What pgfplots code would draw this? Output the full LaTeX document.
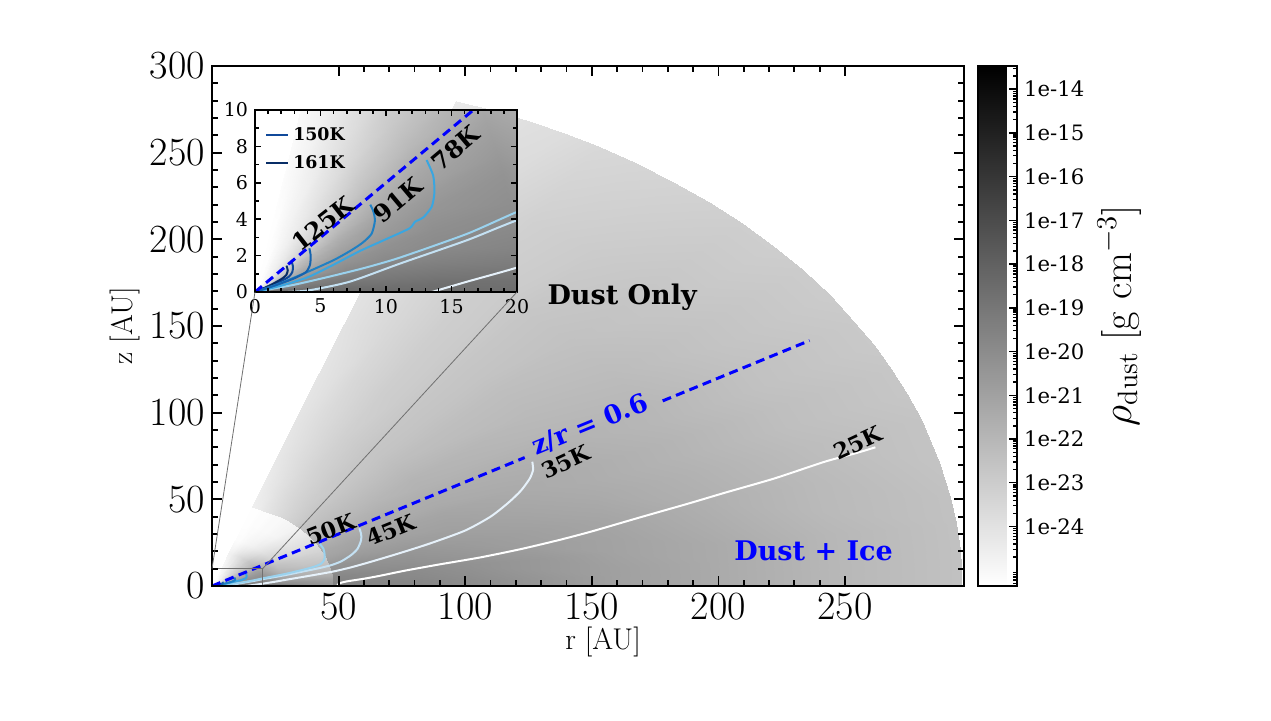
\documentclass[border=0pt]{standalone}
\usepackage{fontspec}
\usepackage{pgfplots}
\usepackage{pgfplotstable}
\pgfplotsset{compat=1.18}
\newfontfamily\dvs{DejaVu Serif}

\definecolor{cSfive}{HTML}{FFFFFF}
\definecolor{cTfive}{HTML}{E6F1FA}
\definecolor{cFfive}{HTML}{C4E1F3}
\definecolor{cFzero}{HTML}{9AD2EE}
\definecolor{cSeight}{HTML}{3AA6E0}
\definecolor{cNone}{HTML}{1F80C4}
\definecolor{cOtwo}{HTML}{1563AE}
\definecolor{cOfive}{HTML}{10499A}
\definecolor{cOsix}{HTML}{082D66}
\definecolor{linkgray}{HTML}{707070}

% log10 of the dust density on a polar grid: elevation angle a [deg], radius R [AU]
% radii per ring: 0.5 2 4 7 10 14 20 28 38 48 | 48 60 80 100 130 160 200 245 296
\pgfplotstableread[row sep=\\]{
a R L\\
0 0.5 -18.21\\ 0 2 -18.21\\ 0 4 -18.33\\ 0 7 -18.45\\ 0 10 -18.45\\ 0 14 -18.45\\ 0 20 -18.57\\ 0 28 -19.40\\ 0 38 -19.99\\ 0 48 -20.34\\ 0 48 -19.51\\ 0 60 -19.63\\ 0 80 -19.75\\ 0 100 -19.99\\ 0 130 -20.46\\ 0 160 -20.94\\ 0 200 -21.41\\ 0 245 -22.00\\ 0 296 -22.48\\
2 0.5 -18.45\\ 2 2 -18.45\\ 2 4 -18.57\\ 2 7 -18.57\\ 2 10 -18.68\\ 2 14 -18.68\\ 2 20 -18.80\\ 2 28 -19.63\\ 2 38 -20.22\\ 2 48 -20.58\\ 2 48 -19.51\\ 2 60 -19.63\\ 2 80 -19.75\\ 2 100 -19.99\\ 2 130 -20.46\\ 2 160 -20.94\\ 2 200 -21.41\\ 2 245 -22.00\\ 2 296 -22.48\\
4 0.5 -18.92\\ 4 2 -18.92\\ 4 4 -18.92\\ 4 7 -18.92\\ 4 10 -19.04\\ 4 14 -19.04\\ 4 20 -19.16\\ 4 28 -20.11\\ 4 38 -20.58\\ 4 48 -20.82\\ 4 48 -19.63\\ 4 60 -19.75\\ 4 80 -19.87\\ 4 100 -20.11\\ 4 130 -20.58\\ 4 160 -20.94\\ 4 200 -21.41\\ 4 245 -22.00\\ 4 296 -22.48\\
7 0.5 -19.63\\ 7 2 -19.51\\ 7 4 -19.40\\ 7 7 -19.40\\ 7 10 -19.40\\ 7 14 -19.51\\ 7 20 -19.63\\ 7 28 -20.70\\ 7 38 -21.17\\ 7 48 -21.41\\ 7 48 -19.75\\ 7 60 -19.87\\ 7 80 -19.99\\ 7 100 -20.22\\ 7 130 -20.58\\ 7 160 -21.05\\ 7 200 -21.41\\ 7 245 -22.00\\ 7 296 -22.48\\
10 0.5 -20.46\\ 10 2 -20.22\\ 10 4 -19.99\\ 10 7 -19.87\\ 10 10 -19.87\\ 10 14 -19.87\\ 10 20 -19.87\\ 10 28 -21.17\\ 10 38 -21.65\\ 10 48 -21.88\\ 10 48 -19.99\\ 10 60 -20.11\\ 10 80 -20.22\\ 10 100 -20.46\\ 10 130 -20.82\\ 10 160 -21.05\\ 10 200 -21.53\\ 10 245 -22.12\\ 10 296 -22.48\\
14 0.5 -21.53\\ 14 2 -21.05\\ 14 4 -20.70\\ 14 7 -20.34\\ 14 10 -20.22\\ 14 14 -20.11\\ 14 20 -20.11\\ 14 28 -21.65\\ 14 38 -22.12\\ 14 48 -22.36\\ 14 48 -20.34\\ 14 60 -20.34\\ 14 80 -20.46\\ 14 100 -20.70\\ 14 130 -20.94\\ 14 160 -21.17\\ 14 200 -21.65\\ 14 245 -22.12\\ 14 296 -22.59\\
19 0.5 -22.71\\ 19 2 -22.00\\ 19 4 -21.41\\ 19 7 -20.94\\ 19 10 -20.70\\ 19 14 -20.46\\ 19 20 -20.34\\ 19 28 -22.00\\ 19 38 -22.59\\ 19 48 -22.83\\ 19 48 -20.94\\ 19 60 -20.82\\ 19 80 -20.82\\ 19 100 -20.94\\ 19 130 -21.17\\ 19 160 -21.41\\ 19 200 -21.77\\ 19 245 -22.24\\ 19 296 -22.59\\
22 0.5 -23.19\\ 22 2 -22.48\\ 22 4 -21.77\\ 22 7 -21.29\\ 22 10 -20.94\\ 22 14 -20.70\\ 22 20 -20.58\\ 22 28 -22.24\\ 22 38 -22.83\\ 22 48 -23.07\\ 22 48 -21.17\\ 22 60 -21.05\\ 22 80 -21.05\\ 22 100 -21.05\\ 22 130 -21.29\\ 22 160 -21.53\\ 22 200 -21.88\\ 22 245 -22.36\\ 22 296 -22.71\\
25 0.5 -23.66\\ 25 2 -22.95\\ 25 4 -22.24\\ 25 7 -21.65\\ 25 10 -21.29\\ 25 14 -21.05\\ 25 20 -20.82\\ 25 28 -22.48\\ 25 38 -23.07\\ 25 48 -23.31\\ 25 48 -21.29\\ 25 60 -21.17\\ 25 80 -21.17\\ 25 100 -21.17\\ 25 130 -21.41\\ 25 160 -21.53\\ 25 200 -21.88\\ 25 245 -22.36\\ 25 296 -22.71\\
28 0.5 -24.02\\ 28 2 -23.42\\ 28 4 -22.71\\ 28 7 -22.12\\ 28 10 -21.65\\ 28 14 -21.29\\ 28 20 -21.05\\ 28 28 -22.71\\ 28 38 -23.42\\ 28 48 -23.54\\ 28 48 -21.53\\ 28 60 -21.41\\ 28 80 -21.41\\ 28 100 -21.41\\ 28 130 -21.53\\ 28 160 -21.65\\ 28 200 -22.00\\ 28 245 -22.48\\ 28 296 -22.83\\
31 0.5 -24.37\\ 31 2 -23.78\\ 31 4 -23.07\\ 31 7 -22.48\\ 31 10 -22.00\\ 31 14 -21.65\\ 31 20 -21.41\\ 31 28 -22.95\\ 31 38 -23.66\\ 31 48 -23.78\\ 31 48 -21.77\\ 31 60 -21.65\\ 31 80 -21.53\\ 31 100 -21.53\\ 31 130 -21.65\\ 31 160 -21.77\\ 31 200 -22.00\\ 31 245 -22.48\\ 31 296 -22.83\\
34.5 0.5 -24.61\\ 34.5 2 -24.14\\ 34.5 4 -23.54\\ 34.5 7 -22.95\\ 34.5 10 -22.48\\ 34.5 14 -22.12\\ 34.5 20 -21.77\\ 34.5 28 -23.31\\ 34.5 38 -23.90\\ 34.5 48 -24.02\\ 34.5 48 -22.00\\ 34.5 60 -21.88\\ 34.5 80 -21.77\\ 34.5 100 -21.77\\ 34.5 130 -21.88\\ 34.5 160 -22.00\\ 34.5 200 -22.12\\ 34.5 245 -22.59\\ 34.5 296 -22.95\\
38 0.5 -24.85\\ 38 2 -24.37\\ 38 4 -23.90\\ 38 7 -23.31\\ 38 10 -22.83\\ 38 14 -22.48\\ 38 20 -22.12\\ 38 28 -23.54\\ 38 38 -24.14\\ 38 48 -24.25\\ 38 48 -22.24\\ 38 60 -22.12\\ 38 80 -22.00\\ 38 100 -21.88\\ 38 130 -22.00\\ 38 160 -22.12\\ 38 200 -22.24\\ 38 245 -22.59\\ 38 296 -22.95\\
41.5 0.5 -24.96\\ 41.5 2 -24.61\\ 41.5 4 -24.14\\ 41.5 7 -23.66\\ 41.5 10 -23.19\\ 41.5 14 -22.83\\ 41.5 20 -22.48\\ 41.5 28 -23.78\\ 41.5 38 -24.37\\ 41.5 48 -24.49\\ 41.5 48 -22.48\\ 41.5 60 -22.36\\ 41.5 80 -22.24\\ 41.5 100 -22.12\\ 41.5 130 -22.24\\ 41.5 160 -22.24\\ 41.5 200 -22.36\\ 41.5 245 -22.71\\ 41.5 296 -23.07\\
45 0.5 -25.08\\ 45 2 -24.73\\ 45 4 -24.37\\ 45 7 -23.90\\ 45 10 -23.54\\ 45 14 -23.07\\ 45 20 -22.71\\ 45 28 -24.02\\ 45 38 -24.61\\ 45 48 -24.73\\ 45 48 -22.71\\ 45 60 -22.59\\ 45 80 -22.48\\ 45 100 -22.36\\ 45 130 -22.36\\ 45 160 -22.36\\ 45 200 -22.48\\ 45 245 -22.71\\ 45 296 -23.07\\
48.5 0.5 -25.20\\ 48.5 2 -24.85\\ 48.5 4 -24.61\\ 48.5 7 -24.14\\ 48.5 10 -23.78\\ 48.5 14 -23.42\\ 48.5 20 -23.07\\ 48.5 28 -24.25\\ 48.5 38 -24.85\\ 48.5 48 -24.85\\ 48.5 48 -23.07\\ 48.5 60 -22.83\\ 48.5 80 -22.71\\ 48.5 100 -22.59\\ 48.5 130 -22.59\\ 48.5 160 -22.59\\ 48.5 200 -22.59\\ 48.5 245 -22.83\\ 48.5 296 -23.19\\
52 0.5 -25.20\\ 52 2 -24.96\\ 52 4 -24.73\\ 52 7 -24.37\\ 52 10 -24.02\\ 52 14 -23.66\\ 52 20 -23.31\\ 52 28 -24.49\\ 52 38 -24.96\\ 52 48 -24.96\\ 52 48 -23.31\\ 52 60 -23.07\\ 52 80 -22.83\\ 52 100 -22.71\\ 52 130 -22.71\\ 52 160 -22.71\\ 52 200 -22.71\\ 52 245 -22.95\\ 52 296 -23.31\\
55.5 0.5 -25.32\\ 55.5 2 -25.08\\ 55.5 4 -24.85\\ 55.5 7 -24.61\\ 55.5 10 -24.25\\ 55.5 14 -24.02\\ 55.5 20 -23.66\\ 55.5 28 -24.73\\ 55.5 38 -25.08\\ 55.5 48 -25.08\\ 55.5 48 -23.54\\ 55.5 60 -23.31\\ 55.5 80 -23.07\\ 55.5 100 -22.95\\ 55.5 130 -22.95\\ 55.5 160 -22.95\\ 55.5 200 -22.95\\ 55.5 245 -23.07\\ 55.5 296 -23.42\\
59 0.5 -25.32\\ 59 2 -25.20\\ 59 4 -24.96\\ 59 7 -24.73\\ 59 10 -24.49\\ 59 14 -24.25\\ 59 20 -23.90\\ 59 28 -24.85\\ 59 38 -25.08\\ 59 48 -25.08\\ 59 48 -23.78\\ 59 60 -23.54\\ 59 80 -23.31\\ 59 100 -23.19\\ 59 130 -23.07\\ 59 160 -23.07\\ 59 200 -23.07\\ 59 245 -23.19\\ 59 296 -23.54\\
62 0.5 -25.32\\ 62 2 -25.32\\ 62 4 -25.08\\ 62 7 -24.85\\ 62 10 -24.73\\ 62 14 -24.49\\ 62 20 -24.14\\ 62 28 -24.96\\ 62 38 -25.20\\ 62 48 -25.20\\ 62 48 -24.02\\ 62 60 -23.78\\ 62 80 -23.54\\ 62 100 -23.42\\ 62 130 -23.31\\ 62 160 -23.31\\ 62 200 -23.31\\ 62 245 -23.42\\ 62 296 -23.78\\
65 0.5 -25.32\\ 65 2 -25.32\\ 65 4 -25.20\\ 65 7 -24.96\\ 65 10 -24.85\\ 65 14 -24.61\\ 65 20 -24.37\\ 65 28 -25.08\\ 65 38 -25.20\\ 65 48 -25.20\\ 65 48 -24.25\\ 65 60 -24.02\\ 65 80 -23.78\\ 65 100 -23.66\\ 65 130 -23.54\\ 65 160 -23.54\\ 65 200 -23.54\\ 65 245 -23.66\\ 65 296 -23.90\\
68 0.5 -25.32\\ 68 2 -25.32\\ 68 4 -25.32\\ 68 7 -25.08\\ 68 10 -24.96\\ 68 14 -24.85\\ 68 20 -24.61\\ 68 28 -25.20\\ 68 38 -25.32\\ 68 48 -25.32\\ 68 48 -24.49\\ 68 60 -24.25\\ 68 80 -24.02\\ 68 100 -23.90\\ 68 130 -23.90\\ 68 160 -23.78\\ 68 200 -23.78\\ 68 245 -23.90\\ 68 296 -24.14\\
71 0.5 -25.32\\ 71 2 -25.32\\ 71 4 -25.32\\ 71 7 -25.20\\ 71 10 -25.08\\ 71 14 -24.96\\ 71 20 -24.73\\ 71 28 -25.20\\ 71 38 -25.32\\ 71 48 -25.32\\ 71 48 -24.61\\ 71 60 -24.49\\ 71 80 -24.25\\ 71 100 -24.14\\ 71 130 -24.14\\ 71 160 -24.02\\ 71 200 -24.02\\ 71 245 -24.14\\ 71 296 -24.37\\
}\densitygrid

% temperature contours, r [AU] and z [AU]
\pgfplotstableread[row sep=\\]{
r z\\ 49.5 0.3\\ 50.3 1.5\\ 53 2.6\\ 60 4.2\\ 66 5.8\\ 76 8.8\\ 90 12.5\\ 106 16.5\\ 122 21.3\\ 137 26.5\\ 150 31.5\\ 170 40\\ 188 47.5\\ 203 54\\ 222 62\\ 242 71.7\\ 254 76.5\\ 262 80\\
}\tTwentyFive
\pgfplotstableread[row sep=\\]{
r z\\ 13.5 0\\ 16.2 0.57\\ 19.8 1.3\\ 25 2.5\\ 30 3.8\\ 36.5 5.4\\ 47.7 8.3\\ 55 10.8\\ 62.8 14\\ 74 18.9\\ 86 24.5\\ 100 32\\ 110 40\\ 117 48\\ 122 55\\ 125.5 62\\ 126.8 67\\ 126.5 71.7\\
}\tThirtyFive
\pgfplotstableread[row sep=\\]{
r z\\ 2.5 0\\ 4.2 0.1\\ 7.25 0.57\\ 11.1 1.57\\ 16.2 2.85\\ 19.7 3.86\\ 25 5.2\\ 30 6.6\\ 36 8.4\\ 42 10.2\\ 47 12\\ 51 14.2\\ 55 17.9\\ 57.5 21.5\\ 58.9 26.5\\ 58.9 30\\ 58.2 33.3\\
}\tFortyFive
\pgfplotstableread[row sep=\\]{
r z\\ 0.3 0.05\\ 3 0.4\\ 6 0.9\\ 8.5 1.35\\ 11.1 1.9\\ 16.2 3.2\\ 20 4.4\\ 25 5.8\\ 30 7.3\\ 36 9.4\\ 40.5 11.2\\ 43 12.8\\ 44.3 15\\ 44.5 18\\ 44 21.5\\ 42.5 24.5\\
}\tFifty
\pgfplotstableread[row sep=\\]{
r z\\ 0.3 0.05\\ 2 0.35\\ 4 0.8\\ 6 1.5\\ 8 2.25\\ 10 2.9\\ 11.8 3.5\\ 12.2 3.85\\ 12.85 4.1\\ 13.5 4.7\\ 13.7 5.5\\ 13.6 6.4\\ 13.1 7.25\\
}\tSeventyEight
\pgfplotstableread[row sep=\\]{
r z\\ 0.3 0.08\\ 2 0.5\\ 4 1.1\\ 6 1.75\\ 7.25 2.25\\ 8.2 2.7\\ 8.9 3.2\\ 9.15 3.9\\ 9.05 4.4\\ 8.8 4.8\\
}\tNinetyOne
\pgfplotstableread[row sep=\\]{
r z\\ 0.2 0.05\\ 1.5 0.35\\ 3 0.75\\ 3.9 1.1\\ 4.2 1.5\\ 4.25 2.0\\ 4.15 2.4\\
}\tOneTwoFive
\pgfplotstableread[row sep=\\]{
r z\\ 0.2 0.05\\ 1 0.3\\ 2 0.6\\ 2.6 0.85\\ 2.85 1.1\\ 2.9 1.4\\ 2.8 1.65\\
}\tOneFifty
\pgfplotstableread[row sep=\\]{
r z\\ 0.15 0.05\\ 0.8 0.25\\ 1.5 0.5\\ 2.1 0.75\\ 2.4 0.95\\ 2.5 1.2\\ 2.4 1.45\\
}\tOneSixtyOne

\pgfplotsset{
  densitymap/.style={
    colormap={wb}{rgb255(0cm)=(255,255,255); rgb255(1cm)=(0,0,0)},
    point meta min=-25.36, point meta max=-13.47,
  },
  contour/.style={no markers, smooth, tension=0.4, line width=1pt},
}
\tikzset{
  klabel/.style={font=\dvs\bfseries\fontsize{11}{13}\selectfont},
  ilabel/.style={font=\dvs\bfseries\fontsize{12}{14}\selectfont},
}

\begin{document}
\begin{tikzpicture}
\useasboundingbox (0,0) rectangle (635.5pt,360pt);

\begin{axis}[
  name=main,
  at={(106pt,67pt)}, anchor=south west,
  scale only axis, width=376pt, height=260pt,
  densitymap,
  xmin=0, xmax=297, ymin=0, ymax=300,
  xtick={50,100,150,200,250}, ytick={0,50,...,300},
  minor x tick num=4, minor y tick num=4,
  tick align=inside,
  major tick length=5pt, minor tick length=2.8pt,
  every tick/.style={black, line width=0.9pt},
  axis line style={line width=1pt},
  axis on top,
  /pgf/number format/assume math mode=true,
  tick label style={font=\fontsize{20}{20}\selectfont},
  xlabel={r [AU]}, ylabel={z [AU]},
  label style={font=\fontsize{15}{15}\selectfont},
  xlabel style={at={(axis description cs:0.52,-0.108)}, anchor=center},
  ylabel style={at={(axis description cs:-0.116,0.5)}, anchor=center},
  colorbar,
  colorbar style={
    at={(parent axis.north east)}, anchor=north west, xshift=-1.5pt,
    scale only axis, width=19.5pt, height=260pt,
    axis line style={line width=0.8pt},
    ytick={-24,-23,...,-14},
    yticklabels={1e-24,1e-23,1e-22,1e-21,1e-20,1e-19,1e-18,1e-17,1e-16,1e-15,1e-14},
    minor ytick={-25.301,-25.222,-25.155,-25.097,-25.046,
      -24.699,-24.523,-24.398,-24.301,-24.222,-24.155,-24.097,-24.046,
      -23.699,-23.523,-23.398,-23.301,-23.222,-23.155,-23.097,-23.046,
      -22.699,-22.523,-22.398,-22.301,-22.222,-22.155,-22.097,-22.046,
      -21.699,-21.523,-21.398,-21.301,-21.222,-21.155,-21.097,-21.046,
      -20.699,-20.523,-20.398,-20.301,-20.222,-20.155,-20.097,-20.046,
      -19.699,-19.523,-19.398,-19.301,-19.222,-19.155,-19.097,-19.046,
      -18.699,-18.523,-18.398,-18.301,-18.222,-18.155,-18.097,-18.046,
      -17.699,-17.523,-17.398,-17.301,-17.222,-17.155,-17.097,-17.046,
      -16.699,-16.523,-16.398,-16.301,-16.222,-16.155,-16.097,-16.046,
      -15.699,-15.523,-15.398,-15.301,-15.222,-15.155,-15.097,-15.046,
      -14.699,-14.523,-14.398,-14.301,-14.222,-14.155,-14.097,-14.046,
      -13.699,-13.523},
    ytick pos=right, yticklabel pos=right,
    tick align=inside,
    major tick length=4pt, minor tick length=2pt,
    every tick/.style={black, line width=0.7pt},
    yticklabel style={font=\dvs\fontsize{10.6}{12}\selectfont},
    ylabel={$\rho_{\mathrm{dust}}$ [g cm$^{-3}$]},
    ylabel style={font=\fontsize{20}{20}\selectfont, at={(axis description cs:3.62,0.52)}, anchor=center},
  },
]
\addplot[surf, shader=interp, mesh/cols=19, data cs=polar, point meta=explicit]
  table[x=a, y=R, meta=L] {\densitygrid};

\addplot[contour, color=cSfive] table[x=r, y=z] {\tTwentyFive};
\addplot[contour, color=cTfive] table[x=r, y=z] {\tThirtyFive};
\addplot[contour, color=cFfive] table[x=r, y=z] {\tFortyFive};
\addplot[contour, color=cFzero] table[x=r, y=z] {\tFifty};
\addplot[contour, color=cSeight] table[x=r, y=z] {\tSeventyEight};
\addplot[contour, color=cNone] table[x=r, y=z] {\tNinetyOne};
\addplot[contour, color=cOtwo] table[x=r, y=z] {\tOneTwoFive};
\addplot[contour, color=cOfive] table[x=r, y=z] {\tOneFifty};
\addplot[contour, color=cOsix] table[x=r, y=z] {\tOneSixtyOne};

\addplot[blue, line width=1.5pt, dash pattern=on 4.5pt off 2.7pt] coordinates {(0,0) (123.5,74.1)};
\addplot[blue, line width=1.5pt, dash pattern=on 4.5pt off 2.7pt] coordinates {(178,106.8) (236,141.6)};

\node[klabel, rotate=21] at (axis cs:47,32.7) {50K};
\node[klabel, rotate=22] at (axis cs:70.7,32.3) {45K};
\node[klabel, rotate=25] at (axis cs:139.8,71.5) {35K};
\node[klabel, rotate=25] at (axis cs:255,82.5) {25K};
\node[font=\dvs\bfseries\fontsize{13}{15}\selectfont, text=blue, rotate=22.3, anchor=base] at (axis cs:150.5,88.5) {z/r = 0.6};
\node[font=\dvs\bfseries\fontsize{13.5}{15}\selectfont] at (axis cs:162,166.8) {Dust Only};
\node[font=\dvs\bfseries\fontsize{13.5}{15}\selectfont, text=blue] at (axis cs:237.6,20.2) {Dust + Ice};

\draw[linkgray, line width=0.4pt] (axis cs:0,0) rectangle (axis cs:20,10);
\coordinate (zoomtl) at (axis cs:0,10);
\coordinate (zoomtr) at (axis cs:20,10);
\end{axis}

\begin{axis}[
  name=inset,
  at={(127.5pt,214pt)}, anchor=south west,
  scale only axis, width=131pt, height=91pt,
  densitymap,
  axis background/.style={fill=white},
  xmin=0, xmax=20, ymin=0, ymax=10,
  xtick={0,5,...,20}, ytick={0,2,...,10},
  minor x tick num=4, minor y tick num=1,
  tick align=inside,
  major tick length=3.2pt, minor tick length=1.8pt,
  every tick/.style={black, line width=0.8pt},
  axis line style={line width=1pt},
  axis on top,
  /pgf/number format/assume math mode=true,
  tick label style={font=\dvs\fontsize{9.5}{10}\selectfont},
  legend style={draw=none, fill=none, at={(0.03,0.94)}, anchor=north west,
    font=\dvs\bfseries\fontsize{8.7}{10}\selectfont, row sep=2pt, inner sep=1pt},
  legend cell align=left,
  legend image code/.code={\draw[#1, line width=1pt] (0pt,0pt) -- (11pt,0pt);},
]
\addplot[surf, shader=interp, mesh/cols=19, data cs=polar, point meta=explicit, forget plot]
  table[x=a, y=R, meta=L] {\densitygrid};

\addplot[contour, color=cOfive] table[x=r, y=z] {\tOneFifty};
\addlegendentry{150K}
\addplot[contour, color=cOsix] table[x=r, y=z] {\tOneSixtyOne};
\addlegendentry{161K}

\addplot[contour, color=cSfive, forget plot] table[x=r, y=z] {\tTwentyFive};
\addplot[contour, color=cTfive, forget plot] table[x=r, y=z] {\tThirtyFive};
\addplot[contour, color=cFfive, forget plot] table[x=r, y=z] {\tFortyFive};
\addplot[contour, color=cFzero, forget plot] table[x=r, y=z] {\tFifty};
\addplot[contour, color=cSeight, forget plot] table[x=r, y=z] {\tSeventyEight};
\addplot[contour, color=cNone, forget plot] table[x=r, y=z] {\tNinetyOne};
\addplot[contour, color=cOtwo, forget plot] table[x=r, y=z] {\tOneTwoFive};

\addplot[blue, line width=1.5pt, dash pattern=on 4.5pt off 2.7pt, forget plot] coordinates {(0,0) (20,12)};

\node[ilabel, rotate=38] at (axis cs:5.19,3.75) {125K};
\node[ilabel, rotate=40] at (axis cs:10.9,5.05) {91K};
\node[ilabel, rotate=40] at (axis cs:15.3,7.9) {78K};
\end{axis}

\draw[linkgray, line width=0.4pt] (zoomtl) -- (inset.south west);
\draw[linkgray, line width=0.4pt] (zoomtr) -- (inset.south east);
\end{tikzpicture}
\end{document}
